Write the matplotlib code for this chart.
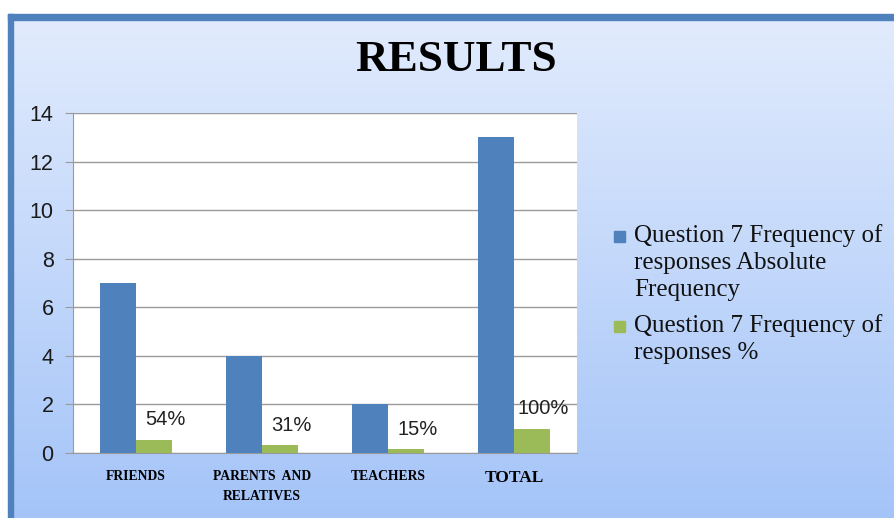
import numpy as np
import matplotlib.pyplot as plt
from matplotlib.patches import Rectangle

categories = ['FRIENDS', 'PARENTS  AND\nRELATIVES', 'TEACHERS', 'TOTAL']
absolute = [7, 4, 2, 13]
percent = [0.54, 0.31, 0.15, 1.00]
pct_labels = ['54%', '31%', '15%', '100%']
series_names = ['Question 7 Frequency of\nresponses Absolute\nFrequency',
                'Question 7 Frequency of\nresponses %']
yticks = [0, 2, 4, 6, 8, 10, 12, 14]

blue, green = '#4F81BD', '#9BBB59'
W, H = 894, 518

fig = plt.figure(figsize=(W / 100, H / 100), dpi=100)

# background: white margin, blue border, vertical gradient
bg = fig.add_axes([0, 0, 1, 1], zorder=-10)
bg.set_xlim(0, W)
bg.set_ylim(H, 0)
bg.axis('off')
top_c = np.array([225, 235, 253]) / 255
bot_c = np.array([164, 196, 248]) / 255
t = np.linspace(0, 1, 256)[:, None, None]
grad = top_c * (1 - t) + bot_c * t
grad = np.repeat(grad, 2, axis=1)
bg.imshow(grad, extent=[13, W, H, 20], aspect='auto', zorder=0)
bg.add_patch(Rectangle((8, 14), W - 8, 6, color=blue, zorder=1))
bg.add_patch(Rectangle((8, 14), 5, H - 14, color=blue, zorder=1))

ax = fig.add_axes([73 / W, 1 - 453 / H, 504 / W, 340 / H])
ax.set_facecolor('white')
x = np.arange(len(categories))
bw = 0.286
ax.bar(x - bw / 2, absolute, bw, color=blue, zorder=3)
ax.bar(x + bw / 2, percent, bw, color=green, zorder=3)

for xi, v, lab in zip(x, percent, pct_labels):
    ax.annotate(lab, (xi + bw / 2, v), xytext=(8, 14.5), textcoords='offset points',
                ha='center', va='center', fontsize=14.5, family='Liberation Sans',
                color='#222222')

ax.set_xlim(-0.5, 3.5)
ax.set_ylim(0, 14)
ax.set_yticks(yticks)
ax.yaxis.grid(True, color='#9A9A9A', lw=1, zorder=0)
ax.tick_params(axis='y', length=6, color='#9A9A9A', pad=8, labelsize=15.5,
               labelcolor='#1A1A1A')
for lab in ax.get_yticklabels():
    lab.set_family('Liberation Sans')
ax.set_xticks(x)
ax.set_xticklabels(categories, family='Liberation Serif', fontweight='bold',
                   fontsize=9.8, linespacing=1.75, va='top')
ax.get_xticklabels()[-1].set_fontsize(12.5)
ax.tick_params(axis='x', length=0, pad=12)
for s in ['top', 'right']:
    ax.spines[s].set_visible(False)
for s in ['left', 'bottom']:
    ax.spines[s].set_color('#9A9A9A')

fig.text(456 / W, 1 - 60 / H, 'RESULTS', ha='center', va='center',
         family='Liberation Serif', fontweight='bold', fontsize=32.5)

# legend drawn by hand so the swatch sits on the first line
for name, col, ytop in zip(series_names, [blue, green], [224, 314]):
    bg.add_patch(Rectangle((614, ytop + 7), 11, 11, color=col, zorder=2))
    bg.text(634, ytop, name, ha='left', va='top', family='Liberation Serif',
            fontsize=18, linespacing=1.28, color='#111111')

fig.savefig('out.png', dpi=100)
